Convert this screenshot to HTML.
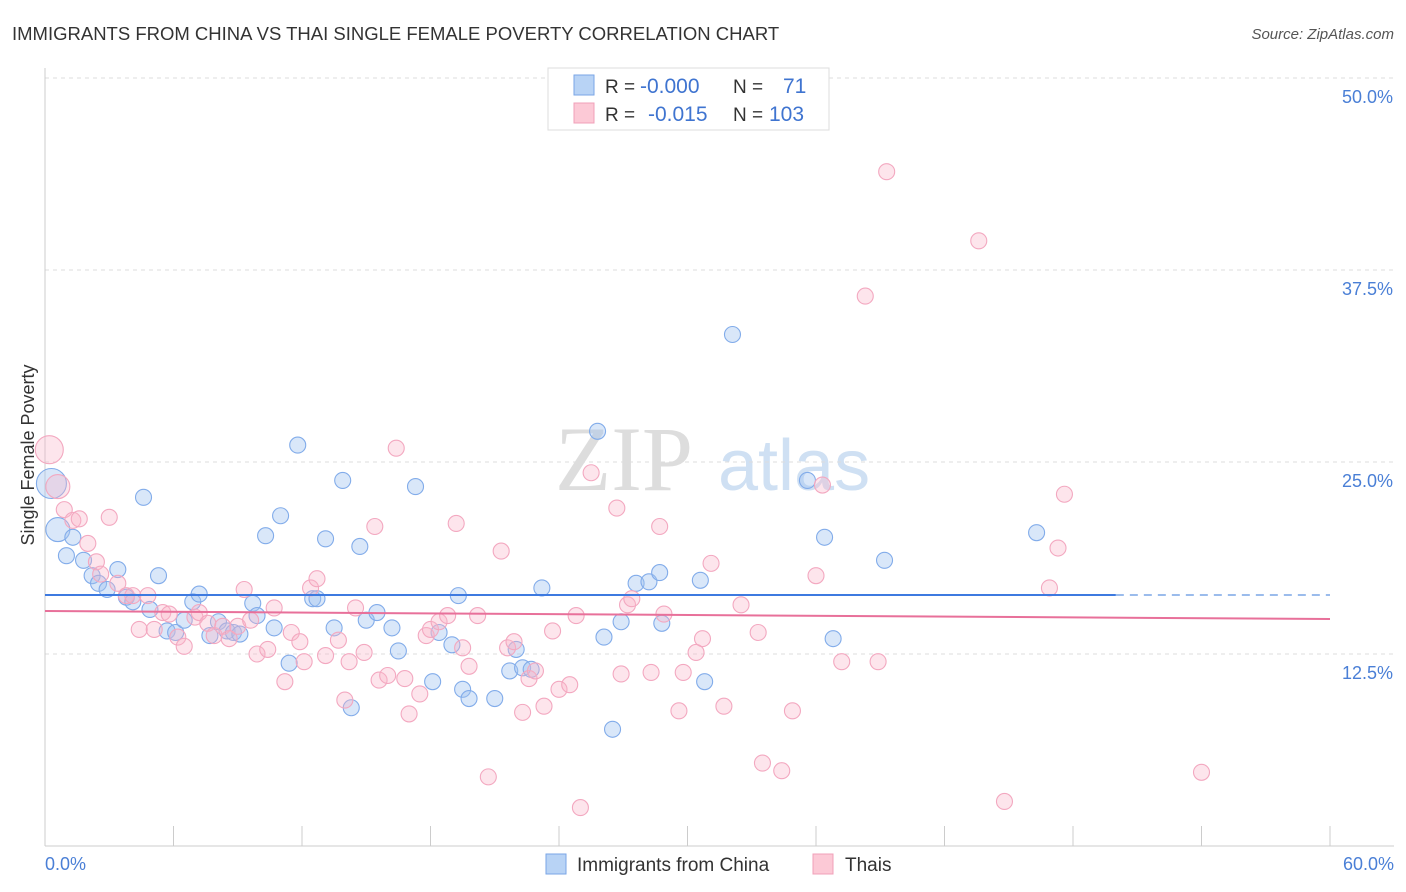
<!DOCTYPE html>
<html><head><meta charset="utf-8"><style>
body{margin:0;background:#fff;font-family:"Liberation Sans",sans-serif;}
svg{display:block}
</style></head><body>
<svg id="chart" width="1406" height="892">
<text x="12" y="40" font-size="18.5" fill="#333">IMMIGRANTS FROM CHINA VS THAI SINGLE FEMALE POVERTY CORRELATION CHART</text>
<text x="1394" y="39" font-size="15" fill="#555" font-style="italic" text-anchor="end">Source: ZipAtlas.com</text>
<text x="555" y="490" font-size="92" fill="#ddd" font-family="Liberation Serif,serif">ZIP</text>
<text x="718" y="490" font-size="72" fill="#cfe0f3">atlas</text>
<g id="grid"></g><g id="axes"></g><g id="pts"></g><g id="lines"></g>
<text transform="translate(34,455) rotate(-90)" font-size="18" fill="#333" text-anchor="middle">Single Female Poverty</text>
<text x="45" y="870" font-size="18" fill="#4a7fd6">0.0%</text>
<text x="1394" y="870" font-size="18" fill="#4a7fd6" text-anchor="end">60.0%</text>
<g>
<rect x="548" y="68" width="281" height="62" fill="#fff" stroke="#ddd"/>
<rect x="574" y="75" width="20" height="20" fill="#b8d3f5" stroke="#7aa6e6"/>
<rect x="574" y="103" width="20" height="20" fill="#fcc9d6" stroke="#f0a0b8"/>
<text x="605" y="93" font-size="19" fill="#333">R = <tspan x="640" font-size="21" fill="#3f74d0">-0.000</tspan></text>
<text x="733" y="93" font-size="19" fill="#333">N = <tspan x="783" font-size="21" fill="#3f74d0">71</tspan></text>
<text x="605" y="121" font-size="19" fill="#333">R = <tspan x="648" font-size="21" fill="#3f74d0">-0.015</tspan></text>
<text x="733" y="121" font-size="19" fill="#333">N = <tspan x="769" font-size="21" fill="#3f74d0">103</tspan></text>
</g>
<g>
<rect x="546" y="854" width="20" height="20" fill="#b8d3f5" stroke="#7aa6e6"/>
<text x="577" y="871" font-size="19" fill="#333">Immigrants from China</text>
<rect x="813" y="854" width="20" height="20" fill="#fcc9d6" stroke="#f0a0b8"/>
<text x="845" y="871" font-size="19" fill="#333">Thais</text>
</g>
</svg>
<script>
const yTicks=[12.5,25,37.5,50];
const yTickLabels=["12.5%","25.0%","37.5%","50.0%"];
const chinaX=[0.3,0.6,1.0,1.3,1.8,2.2,2.5,2.9,3.4,3.8,4.1,4.6,4.9,5.3,5.7,6.1,6.5,6.9,7.2,7.7,8.1,8.5,8.8,9.1,9.7,9.9,10.3,10.7,11.0,11.4,11.8,12.5,12.7,13.1,13.5,13.9,14.3,14.7,15.0,15.5,16.2,16.5,17.3,18.1,18.4,19.0,19.3,19.5,19.8,21.0,21.7,22.0,22.3,22.7,23.2,25.8,26.1,26.5,26.9,27.6,28.2,28.7,28.8,30.6,30.8,32.1,35.6,36.4,36.8,39.2,46.3];
const chinaY=[23.6,20.6,18.9,20.1,18.6,17.6,17.1,16.7,18.0,16.2,15.9,22.7,15.4,17.6,14.0,13.9,14.7,15.9,16.4,13.7,14.6,14.0,13.9,13.8,15.8,15.0,20.2,14.2,21.5,11.9,26.1,16.1,16.1,20.0,14.2,23.8,9.0,19.5,14.7,15.2,14.2,12.7,23.4,10.7,13.9,13.1,16.3,10.2,9.6,9.6,11.4,12.8,11.6,11.5,16.8,27.0,13.6,7.6,14.6,17.1,17.2,17.8,14.5,17.3,10.7,33.3,23.8,20.1,13.5,18.6,20.4];
const thaiX=[0.2,0.6,0.9,1.3,1.6,2.0,2.4,2.6,3.0,3.4,3.8,4.1,4.4,4.8,5.1,5.5,5.8,6.2,6.5,7.0,7.2,7.6,7.9,8.3,8.6,9.0,9.3,9.6,9.9,10.4,10.7,11.2,11.5,11.9,12.1,12.4,12.7,13.1,13.7,14.0,14.2,14.5,14.9,15.4,15.6,16.0,16.4,16.8,17.0,17.5,17.8,18.0,18.4,18.8,19.2,19.5,19.8,20.2,20.7,21.3,21.6,21.9,22.3,22.6,22.9,23.3,23.7,24.0,24.5,24.8,25.0,25.5,26.7,26.9,27.2,27.4,28.3,28.7,28.9,29.6,29.8,30.4,30.7,31.1,31.7,32.5,33.3,33.5,34.4,34.9,36.0,36.3,37.2,38.3,38.9,39.3,43.6,44.8,46.9,47.3,47.6,54.0];
const thaiY=[25.8,23.4,21.9,21.2,21.3,19.7,18.5,17.7,21.4,17.1,16.3,16.3,14.1,16.3,14.1,15.2,15.1,13.6,13.0,14.9,15.2,14.5,13.7,14.3,13.5,14.3,16.7,14.7,12.5,12.8,15.5,10.7,13.9,13.3,12.0,16.8,17.4,12.4,13.4,9.5,12.0,15.5,12.6,20.8,10.8,11.1,25.9,10.9,8.6,9.9,13.7,14.1,14.6,15.0,21.0,12.9,11.7,15.0,4.5,19.2,12.9,13.3,8.7,10.9,11.4,9.1,14.0,10.2,10.5,15.0,2.5,24.3,22.0,11.2,15.7,16.1,11.3,20.8,15.1,8.8,11.3,12.6,13.5,18.4,9.1,15.7,13.9,5.4,4.9,8.8,17.6,23.5,12.0,35.8,12.0,43.9,39.4,2.9,16.8,19.4,22.9,4.8];
const chinaTrend=[16.34,16.34];
const thaiTrend=[15.3,14.78];
const NS="http://www.w3.org/2000/svg";
const X0=45,X1=1330,Y0=846,Y50=78;
const sx=v=>X0+v/60*(X1-X0);
const sy=v=>Y0-v/50*(Y0-Y50);
function mk(t,a,p){const e=document.createElementNS(NS,t);for(const k in a)e.setAttribute(k,a[k]);p.appendChild(e);return e;}
const grid=document.getElementById('grid'),axes=document.getElementById('axes'),pts=document.getElementById('pts'),lines=document.getElementById('lines');
yTicks.forEach((t,i)=>{
 const g=mk('line',{x1:X0,x2:1394,y1:sy(t),y2:sy(t),stroke:'#ddd','stroke-dasharray':'4,4'},grid);
 
 
 const l=mk('text',{x:1393,y:sy(t)+25,'font-size':18,fill:'#4a7fd6','text-anchor':'end'},grid);
 l.textContent=yTickLabels[i];
 
 
});
const ya=mk('line',{x1:X0,x2:X0,y1:68,y2:Y0,stroke:'#ccc'},axes);


const xa=mk('line',{x1:X0,x2:1394,y1:Y0,y2:Y0,stroke:'#ccc'},axes);


for(let i=0;i<=10;i++){
 const tk=mk('line',{x1:sx(i*6),x2:sx(i*6),y1:Y0,y2:Y0-20,stroke:'#ccc'},axes);
 
 
}
chinaX.forEach((x,i)=>{
 const r=i==0?15:(i==1?12:8);
 const c=mk('circle',{cx:sx(x),cy:sy(chinaY[i]),r:r,fill:'rgba(160,196,240,0.4)',stroke:'#82acea','stroke-width':1.1},pts);
 
 
});
thaiX.forEach((x,i)=>{
 const r=i==0?14:(i==1?12:8);
 const c=mk('circle',{cx:sx(x),cy:sy(thaiY[i]),r:r,fill:'rgba(248,180,200,0.35)',stroke:'#f3a8c0','stroke-width':1.1},pts);
 
 
});
const b1=mk('line',{x1:sx(0),x2:sx(50),y1:sy(chinaTrend[0]),y2:sy(chinaTrend[1]),stroke:'#3d7ae0','stroke-width':2},lines);


const b2=mk('line',{x1:sx(50),x2:sx(60),y1:sy(chinaTrend[1]),y2:sy(chinaTrend[1]),stroke:'#7aa6e6','stroke-width':1.5,'stroke-dasharray':'8,6'},lines);


const p1=mk('line',{x1:sx(0),x2:sx(60),y1:sy(thaiTrend[0]),y2:sy(thaiTrend[1]),stroke:'#e8709a','stroke-width':2},lines);


</script>
</body></html>
